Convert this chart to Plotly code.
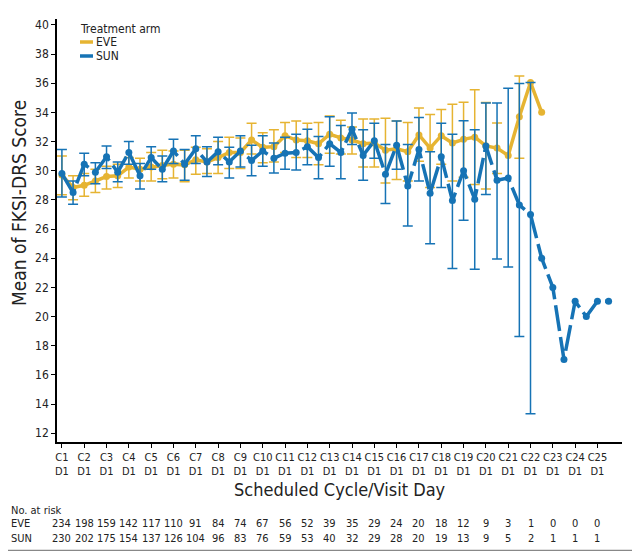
import numpy as np
import plotly.graph_objects as go

# visits: C1 D1, mid-cycle, C2 D1, ...
visit = [1, 1.5, 2, 2.5, 3, 3.5, 4, 4.5, 5, 5.5, 6, 6.5, 7, 7.5, 8, 8.5, 9, 9.5,
         10, 10.5, 11, 11.5, 12, 12.5, 13, 13.5, 14, 14.5, 15, 15.5, 16, 16.5,
         17, 17.5, 18, 18.5, 19, 19.5, 20, 20.5, 21, 21.5, 22, 22.5, 23, 23.5,
         24, 24.5, 25, 25.5]

eve_mean = [29.7, 28.85, 29.0, 29.3, 29.6, 29.65, 30.25, 30.1, 30.25, 30.35, 30.45, 30.4,
            30.75, 30.6, 30.9, 31.25, 31.25, 32.1, 31.6, 31.65, 32.4, 32.1, 32.05, 31.85,
            32.5, 32.25, 32.1, 31.85, 31.9, 31.4, 31.5, 31.3, 32.45, 31.55, 32.4, 31.9,
            32.15, 32.3, 31.7, 31.55, 31.05, 33.7, 36.05, 34.0,
            None, None, None, None, None, None]
eve_lo = [28.35, 28.0, 28.25, 28.5, 28.75, 28.85, 29.5, 29.3, 29.3, 29.45, 29.5, 29.25,
          29.75, 29.8, 29.8, 30.15, 30.15, 31.15, 30.55, 30.6, 31.25, 30.9, 30.9, 30.4,
          31.2, 31.15, 31.15, 30.25, 30.25, 29.15, 29.4, 29.3, 30.65, 28.85, 30.45, 29.3,
          29.55, 29.05, 28.75, 29.8, None, 30.85, None, None,
          None, None, None, None, None, None]
eve_hi = [31.0, 29.65, 29.8, 30.1, 30.3, 30.45, 30.9, 30.85, 31.25, 31.4, 31.35, 31.4,
          31.6, 31.5, 32.0, 32.3, 32.25, 33.25, 32.6, 32.8, 33.3, 33.4, 33.25, 33.3,
          33.75, 33.45, 33.0, 33.55, 33.55, 33.6, 33.4, 33.3, 34.3, 33.85, 34.2, 34.55,
          34.7, 35.55, 34.68, 33.27, None, 36.5, None, None,
          None, None, None, None, None, None]

sun_mean = [29.8, 28.5, 30.45, 29.9, 30.95, 29.9, 31.25, 29.65, 30.9, 30.1, 31.35, 30.45,
            31.5, 30.6, 31.3, 30.6, 31.35, 30.7, 31.35, 30.85, 31.2, 31.25, 31.65, 30.9,
            31.85, 31.25, 32.85, 31.05, 32.05, 29.75, 31.75, 28.95, 31.45, 28.45, 30.95,
            27.95, 30.0, 28.05, 31.7, 29.35, 29.5, 27.65, 27.0, 24.0, 22.0, 17.05,
            21.05, 20.0, 21.05, 21.05]
sun_lo = [28.2, 27.7, 29.65, 29.1, 30.15, 29.25, 30.45, 28.75, 30.1, 29.25, 30.5, 29.35,
          30.5, 29.6, 30.4, 29.5, 30.25, 29.65, 30.3, 29.85, 30.1, 30.05, 30.4, 29.45,
          30.3, 29.45, 31.8, 29.35, 30.85, 27.75, 30.1, 26.2, 29.3, 25.0, 28.85,
          23.3, 26.6, 23.25, 28.36, 23.95, 23.4, 18.63, 13.33, None, None, None,
          None, None, None, None]
sun_hi = [31.45, 29.3, 31.2, 30.55, 31.7, 30.6, 32.0, 30.5, 31.65, 31.0, 32.15, 31.45,
          32.4, 31.65, 32.3, 31.6, 32.4, 31.75, 32.4, 31.9, 32.3, 32.5, 32.85, 32.35,
          33.7, 33.1, 33.95, 32.8, 33.25, 31.8, 33.4, 31.8, 33.65, 31.3, 33.25,
          32.5, 33.42, 32.8, 34.64, 34.64, 35.66, 35.98, 36.05, None, None, None,
          None, None, None, None]

cycles = list(range(1, 26))
tick_text = ["C%d<br>D1" % c for c in cycles]
eve_risk = [234, 198, 159, 142, 117, 110, 91, 84, 74, 67, 56, 52, 39, 35, 29, 24,
            20, 18, 12, 9, 3, 1, 0, 0, 0]
sun_risk = [230, 202, 175, 154, 137, 126, 104, 96, 83, 76, 59, 53, 40, 32, 29, 28,
            20, 19, 13, 9, 5, 2, 1, 1, 1]

EVE_COL = "#E6B432"
SUN_COL = "#1673B5"
FONT = "Liberation Sans Narrow, DejaVu Sans Condensed, Arial Narrow, sans-serif"


def f(a):
    return np.array([np.nan if v is None else v for v in a], dtype=float)


em, el, eh = f(eve_mean), f(eve_lo), f(eve_hi)
sm, sl, sh = f(sun_mean), f(sun_lo), f(sun_hi)

fig = go.Figure()
fig.add_trace(go.Scatter(
    x=visit, y=em, mode="lines+markers", showlegend=False,
    line=dict(color=EVE_COL, width=3.5), marker=dict(color=EVE_COL, size=7),
    error_y=dict(type="data", symmetric=False, array=eh - em, arrayminus=em - el,
                 color=EVE_COL, thickness=1.5, width=5)))
fig.add_trace(go.Scatter(
    x=visit, y=sm, mode="lines+markers", showlegend=False,
    line=dict(color=SUN_COL, width=3.5, dash="26px,6px"), marker=dict(color=SUN_COL, size=7),
    error_y=dict(type="data", symmetric=False, array=sh - sm, arrayminus=sm - sl,
                 color=SUN_COL, thickness=1.5, width=5)))

# page has an 8px body margin, so the plot area (screen x 57..622, y 18..441)
# sits at figure x 49..614, y 10..433
def px(x):
    return (x - 57) / 565.0


def py(y):
    return (441 - y) / 423.0


txt = dict(xref="paper", yref="paper", showarrow=False, yanchor="middle", font=dict(size=11))
ann = [dict(text="No. at risk", x=px(9), y=py(509), xanchor="left", **txt),
       dict(text="EVE", x=px(9), y=py(522), xanchor="left", **txt),
       dict(text="SUN", x=px(9), y=py(537), xanchor="left", **txt)]
for c, e, s in zip(cycles, eve_risk, sun_risk):
    ann.append(dict(text=str(e), x=c, y=py(522), xref="x", yref="paper", yanchor="middle",
                    showarrow=False, font=dict(size=11)))
    ann.append(dict(text=str(s), x=c, y=py(537), xref="x", yref="paper", yanchor="middle",
                    showarrow=False, font=dict(size=11)))

# axis titles
ann.append(dict(text="Scheduled Cycle/Visit Day", x=px(340), y=py(488), xref="paper",
                yref="paper", showarrow=False, xanchor="center", yanchor="middle",
                font=dict(size=18)))
ann.append(dict(text="Mean of FKSI-DRS Score", x=px(19), y=py(202), xref="paper",
                yref="paper", showarrow=False, textangle=-90, xanchor="center",
                yanchor="middle", font=dict(size=19)))

# legend
lg = dict(xref="paper", yref="paper", showarrow=False, xanchor="left", yanchor="middle",
          font=dict(size=12))
ann.append(dict(text="Treatment arm", x=px(78), y=py(28), **lg))
ann.append(dict(text="EVE", x=px(94), y=py(41), **lg))
ann.append(dict(text="SUN", x=px(94), y=py(55), **lg))
shapes = [
    dict(type="line", xref="paper", yref="paper", x0=px(80), x1=px(93), y0=py(41), y1=py(41),
         line=dict(color=EVE_COL, width=3.5)),
    dict(type="line", xref="paper", yref="paper", x0=px(80), x1=px(93), y0=py(55), y1=py(55),
         line=dict(color=SUN_COL, width=3.5)),
    dict(type="line", xref="paper", yref="paper", x0=px(638.5), x1=px(638.5), y0=py(0),
         y1=py(550), line=dict(color="#888888", width=1.5)),
    dict(type="line", xref="paper", yref="paper", x0=px(0), x1=px(639), y0=py(549.5),
         y1=py(549.5), line=dict(color="#888888", width=1.5)),
]

fig.update_layout(
    width=640, height=551, template="plotly_white", showlegend=False,
    plot_bgcolor="white", paper_bgcolor="white",
    margin=dict(l=49, r=26, t=11, b=117),
    font=dict(family=FONT, color="#222222", size=12),
    annotations=ann, shapes=shapes,
)
fig.update_xaxes(range=[0.78, 26.1], tickvals=cycles, ticktext=tick_text, automargin=False,
                 showgrid=False, zeroline=False, showline=True, linecolor="black",
                 linewidth=1.5, ticks="outside", ticklen=4, tickcolor="black",
                 tickfont=dict(size=11))
fig.update_yaxes(range=[11.4, 40.4], tickvals=list(range(12, 41, 2)), automargin=False,
                 showgrid=False, zeroline=False, showline=True, linecolor="black",
                 linewidth=1.5, ticks="outside", ticklen=4, tickcolor="black",
                 tickfont=dict(size=12))

fig.write_html("out.html")
